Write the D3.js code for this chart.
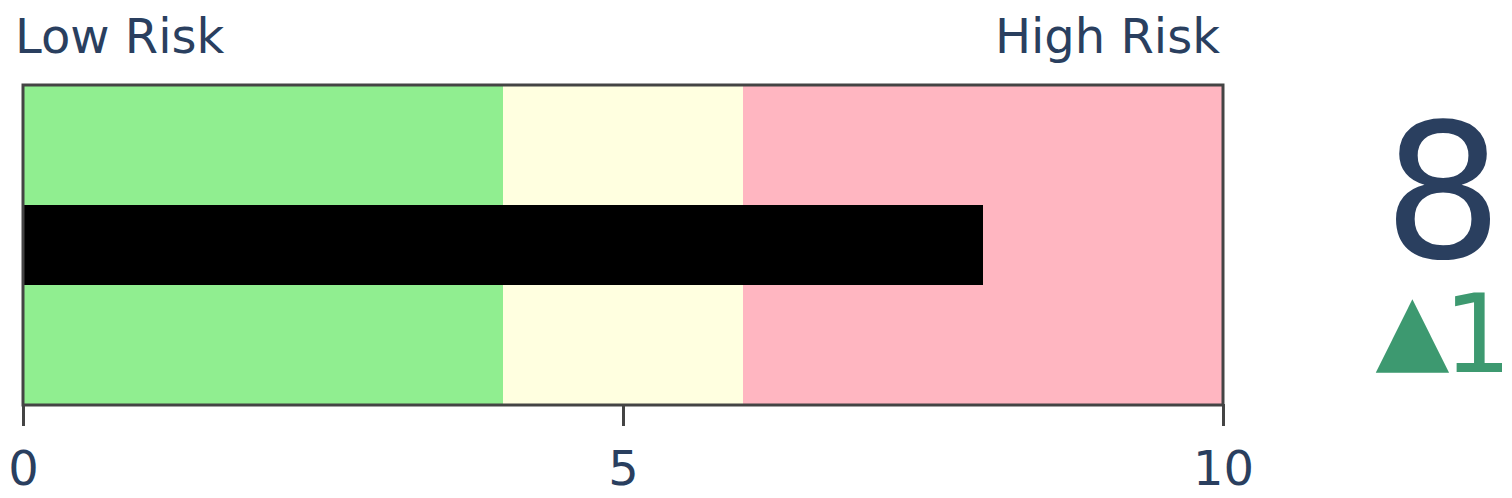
<!DOCTYPE html>
<html><head><meta charset="utf-8">
<script src="https://cdn.jsdelivr.net/npm/d3@7"></script>
<style>html,body{margin:0;padding:0;background:#fff;}</style>
</head><body>
<svg id="chart" width="1512" height="498"></svg>
<script>
const value = 8;
const delta = 1;
const stepStarts = [0, 4, 6];
const stepEnds = [4, 6, 10];
const stepColors = ["lightgreen", "lightyellow", "lightpink"];
const tickValues = [0, 5, 10];
const leftLabel = "Low Risk";
const rightLabel = "High Risk";

(function () {
const svg = d3.select("#chart");
const font = "'DejaVu Sans', sans-serif";
const textColor = "#2a3f5f";
const x = d3.scaleLinear().domain([0, 10]).range([23, 1223]);
const yTop = 85, yBottom = 405;
const h = yBottom - yTop;

svg.selectAll("rect.step").data(stepStarts).enter().append("rect")
  .attr("class", "step")
  .attr("x", (d) => x(d)).attr("y", yTop)
  .attr("width", (d, i) => x(stepEnds[i]) - x(d)).attr("height", h)
  .attr("fill", (d, i) => stepColors[i]);

svg.append("rect").attr("x", x(0)).attr("y", yTop + h * 0.375)
  .attr("width", x(value) - x(0)).attr("height", h * 0.25).attr("fill", "#000");

svg.append("rect").attr("x", x(0)).attr("y", yTop)
  .attr("width", x(10) - x(0)).attr("height", h)
  .attr("fill", "none").attr("stroke", "#444").attr("stroke-width", 3);

const axis = d3.axisBottom(x).tickValues(tickValues).tickSize(22).tickPadding(8).tickFormat(d3.format("d"));
const g = svg.append("g").attr("transform", `translate(0,${yBottom - 1})`).call(axis);
g.select(".domain").remove();
g.selectAll(".tick line").attr("stroke", "#444").attr("stroke-width", 3);
g.selectAll(".tick text").attr("fill", textColor).attr("font-family", font).attr("font-size", 48)
  .attr("dy", null).attr("y", 81);

svg.append("text").attr("x", 15).attr("y", 53).text(leftLabel)
  .attr("font-family", font).attr("font-size", 48).attr("fill", textColor);
svg.append("text").attr("x", 1220).attr("y", 53).attr("text-anchor", "end").text(rightLabel)
  .attr("font-family", font).attr("font-size", 48).attr("fill", textColor);

svg.append("text").attr("x", 1443).attr("y", 257).attr("text-anchor", "middle").text(value)
  .attr("font-family", font).attr("font-size", 188).attr("fill", textColor);

const dt = svg.append("text").attr("x", 1512).attr("y", 372).attr("text-anchor", "end")
  .attr("font-family", font).attr("fill", "#3D9970");
dt.append("tspan").attr("font-size", 96).attr("dy", -11).text("▲");
dt.append("tspan").attr("font-size", 108).attr("dy", 11).attr("dx", -6).text(delta);
})();
</script>
</body></html>
